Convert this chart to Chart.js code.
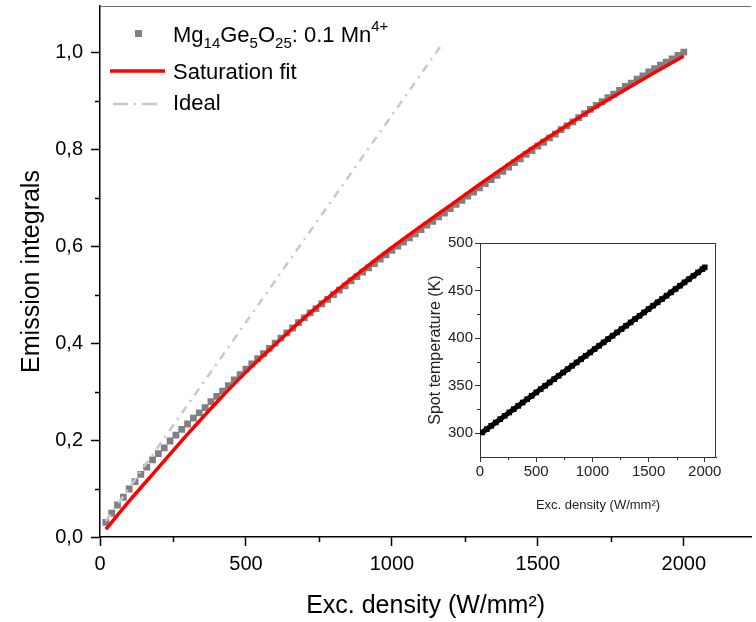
<!DOCTYPE html>
<html>
<head>
<meta charset="utf-8">
<script src="https://cdn.jsdelivr.net/npm/chart.js@4.4.1/dist/chart.umd.min.js"></script>
<style>
    html, body { margin: 0; padding: 0; background: #fff; }
    #wrap { position: relative; width: 756px; height: 622px; overflow: hidden; }
    #main { position: absolute; left: 0; top: 0; }
    #inset { position: absolute; left: 400px; top: 225px; }
</style>
</head>
<body>
<div id="wrap">
    <canvas id="main" width="756" height="622"></canvas>
    <canvas id="inset" width="340" height="300"></canvas>
</div>
<script>
// measured emission integrals (normalised)
const excDensity = [
    20, 40, 60, 80, 100, 120, 140, 160, 180, 200,
    220, 240, 260, 280, 300, 320, 340, 360, 380, 400,
    420, 440, 460, 480, 500, 520, 540, 560, 580, 600,
    620, 640, 660, 680, 700, 720, 740, 760, 780, 800,
    820, 840, 860, 880, 900, 920, 940, 960, 980, 1000,
    1020, 1040, 1060, 1080, 1100, 1120, 1140, 1160, 1180, 1200,
    1220, 1240, 1260, 1280, 1300, 1320, 1340, 1360, 1380, 1400,
    1420, 1440, 1460, 1480, 1500, 1520, 1540, 1560, 1580, 1600,
    1620, 1640, 1660, 1680, 1700, 1720, 1740, 1760, 1780, 1800,
    1820, 1840, 1860, 1880, 1900, 1920, 1940, 1960, 1980, 2000
];
const emission = [
    0.030, 0.049, 0.066, 0.082, 0.099, 0.114, 0.129, 0.144, 0.159, 0.172,
    0.184, 0.198, 0.210, 0.222, 0.233, 0.245, 0.256, 0.267, 0.279, 0.290,
    0.301, 0.312, 0.324, 0.335, 0.346, 0.357, 0.368, 0.378, 0.389, 0.400,
    0.410, 0.421, 0.431, 0.442, 0.452, 0.462, 0.471, 0.481, 0.490, 0.500,
    0.509, 0.518, 0.528, 0.537, 0.546, 0.555, 0.564, 0.573, 0.582, 0.591,
    0.600, 0.608, 0.617, 0.625, 0.634, 0.643, 0.651, 0.660, 0.668, 0.677,
    0.686, 0.694, 0.703, 0.711, 0.720, 0.729, 0.737, 0.746, 0.754, 0.763,
    0.772, 0.780, 0.789, 0.797, 0.806, 0.814, 0.823, 0.831, 0.840, 0.848,
    0.856, 0.865, 0.873, 0.882, 0.890, 0.898, 0.906, 0.913, 0.921, 0.929,
    0.936, 0.944, 0.951, 0.959, 0.966, 0.973, 0.979, 0.986, 0.993, 1.000
];

// saturation fit curve
const fitDensity = [20, 100, 200, 300, 400, 500, 600, 700, 800, 900, 1000,
    1100, 1200, 1300, 1400, 1500, 1600, 1700, 1800, 1900, 2000];
const fitEmission = [0.016, 0.074, 0.143, 0.212, 0.278, 0.340, 0.397, 0.452, 0.503, 0.551, 0.597,
    0.641, 0.684, 0.727, 0.769, 0.810, 0.849, 0.887, 0.923, 0.958, 0.992];

// ideal (linear) response
const idealDensity = [20, 1176];
const idealEmission = [0.033, 1.02];

// inset: spot temperature
const insetDensity = [
    20, 60, 100, 140, 180, 220, 260, 300, 340, 380,
    420, 460, 500, 540, 580, 620, 660, 700, 740, 780,
    820, 860, 900, 940, 980, 1020, 1060, 1100, 1140, 1180,
    1220, 1260, 1300, 1340, 1380, 1420, 1460, 1500, 1540, 1580,
    1620, 1660, 1700, 1740, 1780, 1820, 1860, 1900, 1940, 1980, 2000
];
const spotTemp = [
    300.8, 304.3, 307.8, 311.3, 314.8, 318.3, 321.8, 325.3, 328.8, 332.3,
    335.8, 339.3, 342.9, 346.4, 349.9, 353.4, 356.9, 360.4, 363.9, 367.4,
    370.9, 374.4, 377.9, 381.4, 384.9, 388.5, 392.0, 395.5, 399.0, 402.5,
    406.0, 409.5, 413.0, 416.5, 420.0, 423.5, 427.0, 430.6, 434.1, 437.6,
    441.1, 444.6, 448.1, 451.6, 455.1, 458.6, 462.1, 465.6, 469.1, 472.6, 474.4
];

// tick positions
const mainTicksX = [0, 500, 1000, 1500, 2000];
const mainTicksY = [0, 0.2, 0.4, 0.6, 0.8, 1.0];
const mainMinorX = [250, 750, 1250, 1750];
const mainMinorY = [0.1, 0.3, 0.5, 0.7, 0.9];
const insetTicksX = [0, 500, 1000, 1500, 2000];
const insetTicksY = [300, 350, 400, 450, 500];
const insetMinorX = [250, 750, 1250, 1750];
const insetMinorY = [325, 375, 425, 475];

const FONT = '"Liberation Sans", Arial, sans-serif';
Chart.defaults.font.family = FONT;
Chart.defaults.color = '#000';

function toPoints(xs, ys) {
    return xs.map((x, i) => ({ x: x, y: ys[i] }));
}

function fixedTicks(values) {
    return s => { s.ticks = values.map(v => ({ value: v })); };
}

function noPad(size, key) {
    return s => {
        s[key] = size;
        s.paddingTop = 0;
        s.paddingBottom = 0;
        s.paddingLeft = 0;
        s.paddingRight = 0;
    };
}

// short minor ticks outside the axes
const minorTicks = {
    id: 'minorTicks',
    afterDraw(chart, args, opts) {
        const { ctx, scales: { x, y } } = chart;
        ctx.save();
        ctx.strokeStyle = opts.color;
        ctx.lineWidth = opts.width;
        opts.x.forEach(v => {
            const px = Math.round(x.getPixelForValue(v)) + 0.5;
            if (px > x.right) return;
            ctx.beginPath();
            ctx.moveTo(px, x.top);
            ctx.lineTo(px, x.top + opts.len);
            ctx.stroke();
        });
        opts.y.forEach(v => {
            const py = Math.round(y.getPixelForValue(v)) + 0.5;
            ctx.beginPath();
            ctx.moveTo(y.right, py);
            ctx.lineTo(y.right - opts.len, py);
            ctx.stroke();
        });
        ctx.restore();
    }
};

// top / right frame lines
const frame = {
    id: 'frame',
    afterDraw(chart, args, opts) {
        const { ctx, chartArea: a } = chart;
        ctx.save();
        ctx.strokeStyle = opts.color;
        ctx.lineWidth = opts.width;
        ctx.beginPath();
        ctx.moveTo(a.left, a.top + 0.5);
        ctx.lineTo(a.right, a.top + 0.5);
        if (opts.right) {
            ctx.moveTo(a.right - 0.5, a.top);
            ctx.lineTo(a.right - 0.5, a.bottom);
        }
        ctx.stroke();
        ctx.restore();
    }
};

// legend with sub/superscripts
const richLegend = {
    id: 'richLegend',
    afterDraw(chart) {
        const ctx = chart.ctx;
        ctx.save();
        ctx.textBaseline = 'alphabetic';

        ctx.fillStyle = '#808080';
        ctx.fillRect(135, 30, 7, 7);

        const parts = [
            ['Mg', 'n'], ['14', 'sub'], ['Ge', 'n'], ['5', 'sub'], ['O', 'n'], ['25', 'sub'],
            [': 0.1 Mn', 'n'], ['4+', 'sup']
        ];
        let x = 173;
        const base = 42;
        ctx.fillStyle = '#000';
        parts.forEach(([t, k]) => {
            if (k === 'n') {
                ctx.font = '22px ' + FONT;
                ctx.fillText(t, x, base);
            } else if (k === 'sub') {
                ctx.font = '15px ' + FONT;
                ctx.fillText(t, x, base + 6);
            } else {
                ctx.font = '15px ' + FONT;
                ctx.fillText(t, x, base - 11);
            }
            x += ctx.measureText(t).width;
        });

        ctx.font = '22px ' + FONT;
        ctx.fillText('Saturation fit', 173, 79);
        ctx.fillText('Ideal', 173, 110);

        ctx.strokeStyle = '#ff0000';
        ctx.lineWidth = 3.5;
        ctx.beginPath();
        ctx.moveTo(110, 71);
        ctx.lineTo(165, 71);
        ctx.stroke();

        ctx.strokeStyle = '#c8c8c8';
        ctx.lineWidth = 2.5;
        ctx.setLineDash([15, 6, 2, 6]);
        ctx.beginPath();
        ctx.moveTo(113, 104);
        ctx.lineTo(163, 104);
        ctx.stroke();
        ctx.restore();
    }
};

new Chart(document.getElementById('main'), {
    type: 'scatter',
    data: {
        datasets: [{
            label: 'Mg14Ge5O25: 0.1 Mn4+',
            data: toPoints(excDensity, emission),
            pointStyle: 'rect',
            pointRadius: 4.8,
            pointBorderWidth: 0,
            backgroundColor: '#808080',
            borderColor: '#808080',
            order: 3
        }, {
            label: 'Saturation fit',
            data: toPoints(fitDensity, fitEmission),
            showLine: true,
            cubicInterpolationMode: 'monotone',
            borderColor: '#ff0000',
            borderWidth: 3.5,
            pointRadius: 0,
            order: 2
        }, {
            label: 'Ideal',
            data: toPoints(idealDensity, idealEmission),
            showLine: true,
            borderColor: '#c8c8c8',
            borderWidth: 2.5,
            borderDash: [8, 6, 2, 6],
            pointRadius: 0,
            order: 1
        }]
    },
    options: {
        responsive: false,
        animation: false,
        layout: { padding: { top: 6, left: 0, right: 0, bottom: 0 } },
        plugins: {
            legend: { display: false },
            tooltip: { enabled: false },
            minorTicks: { x: mainMinorX, y: mainMinorY, len: 5, color: '#000', width: 1.5 },
            frame: { color: '#707070', width: 1.2, right: false }
        },
        scales: {
            x: {
                type: 'linear',
                min: 0,
                max: 2231,
                afterBuildTicks: fixedTicks(mainTicksX),
                afterFit: noPad(85, 'height'),
                ticks: { autoSkip: false, maxRotation: 0, padding: 6, font: { size: 20 }, color: '#000', callback: v => String(v) },
                grid: { drawOnChartArea: false, tickLength: 9, tickColor: '#000', tickWidth: 1.5 },
                border: { color: '#000', width: 1.5 },
                title: { display: true, text: 'Exc. density (W/mm²)', font: { size: 25 }, color: '#000', padding: { top: 0, bottom: 1 } }
            },
            y: {
                type: 'linear',
                min: 0,
                max: 1.095,
                afterBuildTicks: fixedTicks(mainTicksY),
                afterFit: noPad(100, 'width'),
                ticks: {
                    padding: 8, font: { size: 20 }, color: '#000',
                    callback: v => v.toFixed(1).replace('.', ',')
                },
                grid: { drawOnChartArea: false, tickLength: 9, tickColor: '#000', tickWidth: 1.5 },
                border: { color: '#000', width: 1.5 },
                title: { display: true, text: 'Emission integrals', font: { size: 25 }, color: '#000', padding: { top: 17, bottom: 0 } }
            }
        }
    },
    plugins: [minorTicks, frame, richLegend]
});

new Chart(document.getElementById('inset'), {
    type: 'scatter',
    data: {
        datasets: [{
            label: 'Spot temperature',
            data: toPoints(insetDensity, spotTemp),
            showLine: true,
            borderWidth: 5,
            pointStyle: 'rect',
            pointRadius: 4,
            pointBorderWidth: 0,
            backgroundColor: '#000',
            borderColor: '#000'
        }]
    },
    options: {
        responsive: false,
        animation: false,
        layout: { padding: { top: 18, right: 24, left: 0, bottom: 0 } },
        plugins: {
            legend: { display: false },
            tooltip: { enabled: false },
            minorTicks: { x: insetMinorX, y: insetMinorY, len: 3, color: '#333', width: 1 },
            frame: { color: '#333', width: 1, right: true }
        },
        scales: {
            x: {
                type: 'linear',
                min: 0,
                max: 2100,
                afterBuildTicks: fixedTicks(insetTicksX),
                afterFit: noPad(68, 'height'),
                ticks: { autoSkip: false, maxRotation: 0, padding: 1, font: { size: 15 }, color: '#222', callback: v => String(v) },
                grid: { drawOnChartArea: false, tickLength: 5, tickColor: '#333', tickWidth: 1 },
                border: { color: '#333', width: 1 },
                title: { display: true, text: 'Exc. density (W/mm²)', font: { size: 13 }, color: '#222', padding: { top: 0, bottom: 12 } }
            },
            y: {
                type: 'linear',
                min: 275,
                max: 500,
                afterBuildTicks: fixedTicks(insetTicksY),
                afterFit: noPad(80, 'width'),
                ticks: { padding: 2, font: { size: 15 }, color: '#222', callback: v => String(v) },
                grid: { drawOnChartArea: false, tickLength: 5, tickColor: '#333', tickWidth: 1 },
                border: { color: '#333', width: 1 },
                title: { display: true, text: 'Spot temperature (K)', font: { size: 16 }, color: '#222', padding: { top: 26, bottom: 0 } }
            }
        }
    },
    plugins: [minorTicks, frame]
});
</script>
</body>
</html>
